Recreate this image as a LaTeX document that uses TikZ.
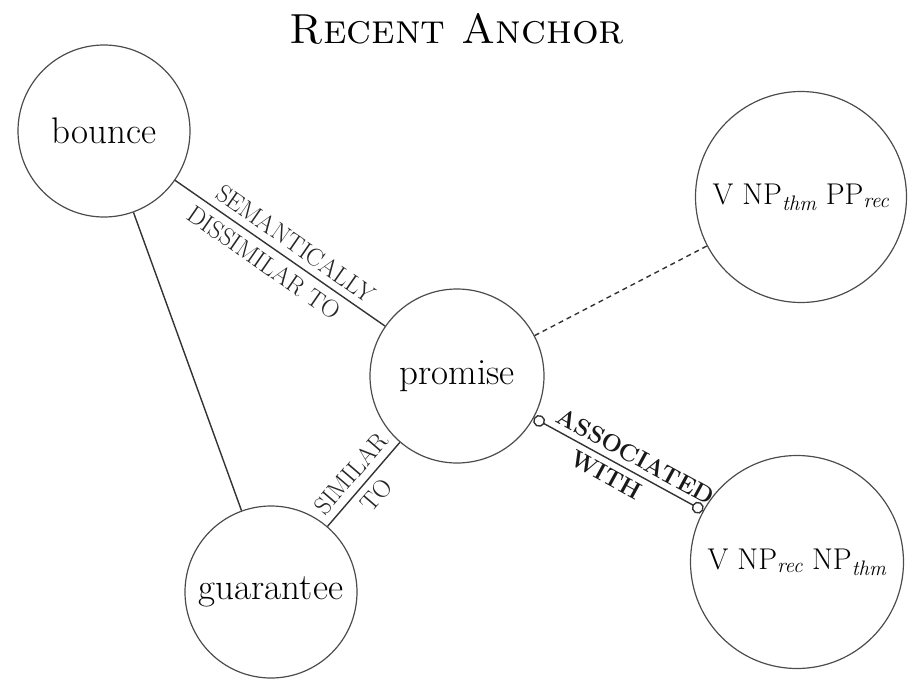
\documentclass[tikz,border=0pt]{standalone}
\usepackage{fontspec}
\usetikzlibrary{arrows.meta}
\newcommand{\rolesub}[1]{\textsubscript{\itshape #1}}
\begin{document}
\begin{tikzpicture}[x=1pt,y=-1pt,
  concept/.style={circle, draw=black!70, line width=1.2pt, inner sep=0pt,
    font=\fontsize{37}{44}\selectfont},
  frame/.style={circle, draw=black!70, line width=1.2pt, inner sep=0pt,
    font=\fontsize{30}{36}\selectfont},
  rel/.style={draw=black!80, line width=1.4pt},
  lab/.style={font=\fontsize{25}{30}\selectfont, sloped, inner sep=7pt, text=black!85},
  blab/.style={font=\fontsize{24}{28}\selectfont\bfseries, sloped, inner sep=6pt, text=black!90},
  ringtip/.tip={Circle[open, length=12pt, width=12pt, line width=1.4pt]}]

\useasboundingbox (0,0) rectangle (911,678);

% heading
\node (title) at (457,29) {\fontsize{42}{50}\selectfont\textsc{Recent Anchor}};

% verb concepts
\node[concept, minimum size=172pt] (bounce)    at (104,131) {bounce};
\node[concept, minimum size=174pt] (promise)   at (457,376) {promise};
\node[concept, minimum size=172pt] (guarantee) at (271,592) {guarantee};

% construction frames
\node[frame, minimum size=211pt] (pd) at (801,197) {V NP\rolesub{thm} PP\rolesub{rec}};
\node[frame, minimum size=213pt] (do) at (797,562) {V NP\rolesub{rec} NP\rolesub{thm}};

% relations between concepts
\draw[rel] (bounce) -- (promise)
  node[lab, pos=0.53, above] {SEMANTICALLY}
  node[lab, pos=0.47, below] {DISSIMILAR TO};
\draw[rel] (bounce) -- (guarantee);
\draw[rel] (guarantee) -- (promise)
  node[lab, midway, above] {SIMILAR}
  node[lab, midway, below] {TO};

% links to frames
\draw[rel, dashed, dash pattern=on 5pt off 4pt] (promise) -- (pd);
\draw[rel, ringtip-ringtip] (promise) -- (do)
  node[blab, pos=0.56, above] {ASSOCIATED}
  node[blab, pos=0.47, below] {WITH};

\end{tikzpicture}
\end{document}
